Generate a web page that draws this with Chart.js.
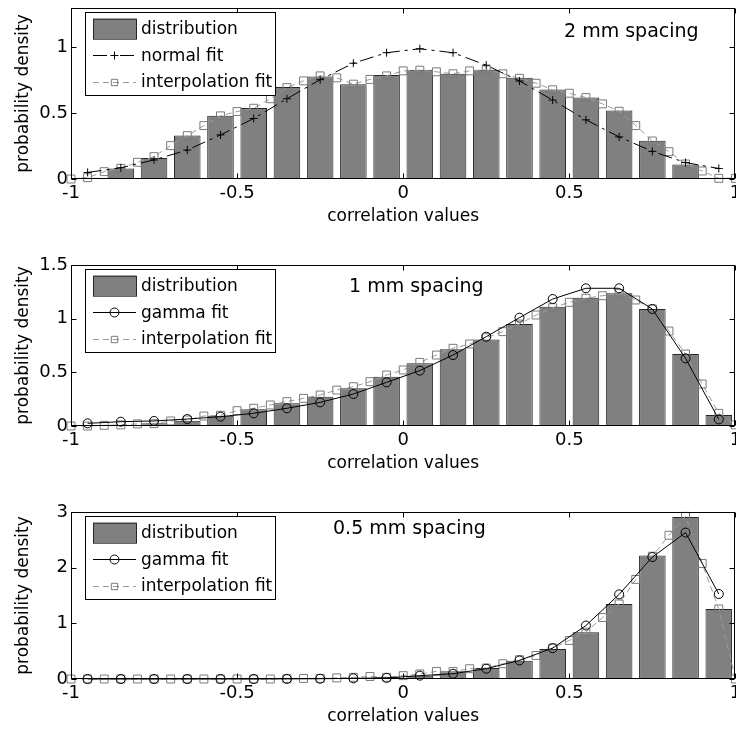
<!DOCTYPE html>
<html>
<head>
<meta charset="utf-8">
<script src="https://cdn.jsdelivr.net/npm/chart.js@4.4.1/dist/chart.umd.min.js"></script>
<style>
html,body{margin:0;padding:0;background:#fff;overflow:hidden;width:736px;height:730px;position:relative;}
canvas{position:absolute;left:0;}
</style>
</head>
<body>
<canvas id="c1" width="742" height="240" style="top:0px;width:742px;height:240px"></canvas>
<canvas id="c2" width="742" height="230" style="top:257px;width:742px;height:230px"></canvas>
<canvas id="c3" width="742" height="236" style="top:504px;width:742px;height:236px"></canvas>
<script>
// ---------- data ----------
const binCenters = [-0.95,-0.85,-0.75,-0.65,-0.55,-0.45,-0.35,-0.25,-0.15,-0.05,0.05,0.15,0.25,0.35,0.45,0.55,0.65,0.75,0.85,0.95];
const interpX = [-1,-0.95,-0.9,-0.85,-0.8,-0.75,-0.7,-0.65,-0.6,-0.55,-0.5,-0.45,-0.4,-0.35,-0.3,-0.25,-0.2,-0.15,-0.1,-0.05,0,0.05,0.1,0.15,0.2,0.25,0.3,0.35,0.4,0.45,0.5,0.55,0.6,0.65,0.7,0.75,0.8,0.85,0.9,0.95,1];
const xTickValues = [-1,-0.5,0,0.5,1];
const xTickLabels = ['-1','-0.5','0','0.5','1'];

// 2 mm spacing
const dist2mm = [0.01,0.08,0.16,0.33,0.48,0.54,0.70,0.78,0.72,0.79,0.83,0.80,0.83,0.77,0.68,0.62,0.52,0.29,0.11,0.01];
const normalFit2mm = [0.05,0.085,0.145,0.22,0.335,0.46,0.61,0.755,0.88,0.96,0.99,0.96,0.865,0.745,0.60,0.45,0.32,0.21,0.125,0.08];
const interp2mm = [0,0.01,0.056,0.081,0.127,0.17,0.254,0.33,0.406,0.48,0.513,0.538,0.61,0.695,0.746,0.784,0.769,0.721,0.757,0.784,0.822,0.827,0.815,0.80,0.822,0.83,0.80,0.766,0.728,0.678,0.652,0.619,0.571,0.515,0.406,0.289,0.208,0.114,0.061,0.005,0.005];
const yTicks2mm = [0,0.5,1];
const yTickLabels2mm = ['0','0.5','1'];

// 1 mm spacing
const dist1mm = [0.005,0.01,0.025,0.05,0.096,0.155,0.211,0.273,0.351,0.46,0.584,0.714,0.807,0.95,1.112,1.196,1.236,1.09,0.671,0.102];
const gammaFit1mm = [0.025,0.04,0.047,0.065,0.087,0.118,0.165,0.22,0.298,0.407,0.516,0.661,0.832,1.009,1.183,1.283,1.283,1.09,0.63,0.062];
const interp1mm = [0,0,0.006,0.01,0.02,0.022,0.047,0.056,0.093,0.10,0.143,0.165,0.196,0.227,0.258,0.289,0.335,0.366,0.413,0.475,0.522,0.593,0.661,0.724,0.764,0.823,0.879,0.95,1.034,1.102,1.152,1.19,1.214,1.236,1.174,1.09,0.885,0.671,0.391,0.118,0.01];
const yTicks1mm = [0,0.5,1,1.5];
const yTickLabels1mm = ['0','0.5','1','1.5'];

// 0.5 mm spacing
const dist05mm = [0,0,0,0,0,0,0.003,0.005,0.015,0.03,0.06,0.137,0.197,0.328,0.537,0.841,1.348,2.218,2.91,1.258];
const gammaFit05mm = [0,0,0,0,0,0,0.002,0.005,0.012,0.02,0.06,0.095,0.185,0.334,0.555,0.96,1.52,2.19,2.63,1.527];
const interp05mm = [0,0,0,0,0,0,0,0,0,0,0,0,0,0.005,0.01,0.01,0.02,0.03,0.045,0.03,0.06,0.09,0.137,0.137,0.185,0.197,0.274,0.346,0.423,0.555,0.692,0.841,1.103,1.348,1.789,2.206,2.582,2.922,2.075,1.258,0];
const yTicks05mm = [0,1,2,3];
const yTickLabels05mm = ['0','1','2','3'];

// ---------- drawing helpers ----------
const FONT = "'DejaVu Sans', sans-serif";

function drawMarker(ctx, style, x, y, r) {
  ctx.beginPath();
  if (style === 'cross') {
    ctx.moveTo(x - r, y); ctx.lineTo(x + r, y);
    ctx.moveTo(x, y - r); ctx.lineTo(x, y + r);
  } else if (style === 'circle') {
    ctx.arc(x, y, r, 0, Math.PI * 2);
  } else if (style === 'rect') {
    const s = r / Math.SQRT2;
    ctx.rect(x - s, y - s, 2 * s, 2 * s);
  }
  ctx.stroke();
}

const matlabFrame = {
  id: 'matlabFrame',
  afterDatasetsDraw(chart, args, opts) {
    const ctx = chart.ctx;
    const a = chart.chartArea;
    const xs = chart.scales.x, ys = chart.scales.y;
    ctx.save();
    ctx.setLineDash([]);
    ctx.strokeStyle = '#000';
    ctx.lineWidth = 1;
    const L = Math.round(a.left) + 0.5, R = Math.round(a.right) - 0.5;
    const T = Math.round(a.top) + 0.5, B = Math.round(a.bottom) - 0.5;
    ctx.strokeRect(L, T, R - L, B - T);
    const tl = 5;
    ctx.beginPath();
    xs.ticks.forEach(t => {
      const px = Math.round(xs.getPixelForValue(t.value)) + 0.5;
      ctx.moveTo(px, B); ctx.lineTo(px, B - tl);
      ctx.moveTo(px, T); ctx.lineTo(px, T + tl);
    });
    ys.ticks.forEach(t => {
      const py = Math.round(ys.getPixelForValue(t.value)) + 0.5;
      ctx.moveTo(L, py); ctx.lineTo(L + tl, py);
      ctx.moveTo(R, py); ctx.lineTo(R - tl, py);
    });
    ctx.stroke();

    // annotation text
    if (opts.note) {
      ctx.fillStyle = '#000';
      ctx.font = '19px ' + FONT;
      ctx.textAlign = 'left';
      ctx.textBaseline = 'alphabetic';
      ctx.fillText(opts.note.text, opts.note.x, opts.note.y);
    }

    // legend
    const lg = opts.legend;
    if (lg) {
      ctx.fillStyle = '#fff';
      ctx.fillRect(lg.x, lg.y, lg.w, lg.h);
      ctx.strokeStyle = '#000';
      ctx.strokeRect(lg.x + 0.5, lg.y + 0.5, lg.w, lg.h);
      const rows = [16.7, 43.3, 70];
      chart.data.datasets.forEach((ds, i) => {
        const cy = lg.y + rows[i];
        const sx0 = lg.x + 8, sx1 = lg.x + 51;
        ctx.save();
        if (ds.type === 'bar') {
          ctx.fillStyle = ds.backgroundColor;
          ctx.fillRect(sx0, cy - 10, sx1 - sx0, 20);
          ctx.strokeStyle = ds.borderColor;
          ctx.lineWidth = 1;
          ctx.strokeRect(sx0 + 0.5, cy - 10 + 0.5, sx1 - sx0, 20);
        } else {
          ctx.strokeStyle = ds.borderColor;
          ctx.lineWidth = ds.borderWidth;
          ctx.setLineDash(ds.borderDash || []);
          ctx.beginPath();
          ctx.moveTo(sx0, Math.round(cy) + 0.5);
          ctx.lineTo(sx1, Math.round(cy) + 0.5);
          ctx.stroke();
          ctx.setLineDash([]);
          ctx.strokeStyle = ds.pointBorderColor;
          drawMarker(ctx, ds.pointStyle, (sx0 + sx1) / 2, Math.round(cy) + 0.5, ds.legendMarkerRadius);
        }
        ctx.restore();
        ctx.fillStyle = '#000';
        ctx.font = '17px ' + FONT;
        ctx.textAlign = 'left';
        ctx.textBaseline = 'middle';
        ctx.fillText(ds.label, lg.x + 56, cy + 1);
      });
    }
    ctx.restore();
  }
};

function makeChart(id, cfg) {
  const datasets = [
    {
      type: 'bar',
      label: 'distribution',
      data: binCenters.map((x, i) => ({ x: x, y: cfg.dist[i] })),
      backgroundColor: '#808080',
      borderColor: '#262626',
      borderWidth: 1,
      borderSkipped: 'start',
      barPercentage: 0.8,
      categoryPercentage: 1,
      order: 3
    },
    {
      type: 'line',
      label: cfg.fitLabel,
      data: binCenters.map((x, i) => ({ x: x, y: cfg.fit[i] })),
      borderColor: '#000',
      borderWidth: 1,
      borderDash: cfg.fitDash,
      pointStyle: cfg.fitMarker,
      pointRadius: cfg.fitMarker === 'circle' ? 4.5 : 4,
      legendMarkerRadius: cfg.fitMarker === 'circle' ? 4.5 : 4,
      pointBorderColor: '#000',
      pointBackgroundColor: 'rgba(0,0,0,0)',
      pointBorderWidth: 1,
      fill: false,
      tension: 0,
      clip: false,
      order: 1
    },
    {
      type: 'line',
      label: 'interpolation fit',
      data: interpX.map((x, i) => ({ x: x, y: cfg.interp[i] })),
      borderColor: '#9a9a9a',
      borderWidth: 1,
      borderDash: [6, 4],
      pointStyle: 'rect',
      pointRadius: 5.6,
      legendMarkerRadius: 4.5,
      pointBorderColor: '#7a7a7a',
      pointBackgroundColor: 'rgba(0,0,0,0)',
      pointBorderWidth: 1,
      fill: false,
      tension: 0,
      clip: false,
      order: 2
    }
  ];

  return new Chart(document.getElementById(id), {
    type: 'bar',
    data: { datasets: datasets },
    options: {
      responsive: false,
      animation: false,
      devicePixelRatio: 1,
      layout: { padding: { top: 8, right: 1, left: 0, bottom: 0 } },
      plugins: {
        legend: { display: false },
        tooltip: { enabled: false },
        matlabFrame: {
          legend: { x: 85, y: 12, w: 190, h: 83 },
          note: cfg.note
        }
      },
      scales: {
        x: {
          type: 'linear',
          min: -1,
          max: 1,
          offset: false,
          grid: { display: false, drawTicks: false },
          border: { display: false },
          afterBuildTicks: s => { s.ticks = xTickValues.map(v => ({ value: v })); },
          ticks: {
            padding: 4,
            maxRotation: 0,
            autoSkip: false,
            color: '#000',
            font: { family: FONT, size: 18 },
            callback: (v, i) => xTickLabels[i]
          },
          title: {
            display: true,
            text: 'correlation values',
            color: '#000',
            font: { family: FONT, size: 17 },
            padding: { top: 0, bottom: 13 }
          },
          afterFit: s => { s.height = 61; s.paddingLeft = 0; s.paddingRight = 0; }
        },
        y: {
          type: 'linear',
          min: 0,
          max: cfg.yMax,
          grid: { display: false, drawTicks: false },
          border: { display: false },
          afterBuildTicks: s => { s.ticks = cfg.yTicks.map(v => ({ value: v })); },
          ticks: {
            padding: 3,
            autoSkip: false,
            color: '#000',
            font: { family: FONT, size: 18 },
            callback: (v, i) => cfg.yTickLabels[i]
          },
          title: {
            display: true,
            text: 'probability density',
            color: '#000',
            font: { family: FONT, size: 17 },
            padding: { top: 13, bottom: 0 }
          },
          afterFit: s => { s.width = 71; s.paddingTop = 0; s.paddingBottom = 0; }
        }
      }
    },
    plugins: [matlabFrame]
  });
}

makeChart('c1', {
  dist: dist2mm, fit: normalFit2mm, interp: interp2mm,
  fitLabel: 'normal fit', fitMarker: 'cross', fitDash: [14, 5, 3, 5],
  yMax: 1.3, yTicks: yTicks2mm, yTickLabels: yTickLabels2mm,
  note: { text: '2 mm spacing', x: 564, y: 37 }
});
makeChart('c2', {
  dist: dist1mm, fit: gammaFit1mm, interp: interp1mm,
  fitLabel: 'gamma fit', fitMarker: 'circle', fitDash: [],
  yMax: 1.5, yTicks: yTicks1mm, yTickLabels: yTickLabels1mm,
  note: { text: '1 mm spacing', x: 349, y: 35 }
});
makeChart('c3', {
  dist: dist05mm, fit: gammaFit05mm, interp: interp05mm,
  fitLabel: 'gamma fit', fitMarker: 'circle', fitDash: [],
  yMax: 3, yTicks: yTicks05mm, yTickLabels: yTickLabels05mm,
  note: { text: '0.5 mm spacing', x: 333, y: 30 }
});
</script>
</body>
</html>
